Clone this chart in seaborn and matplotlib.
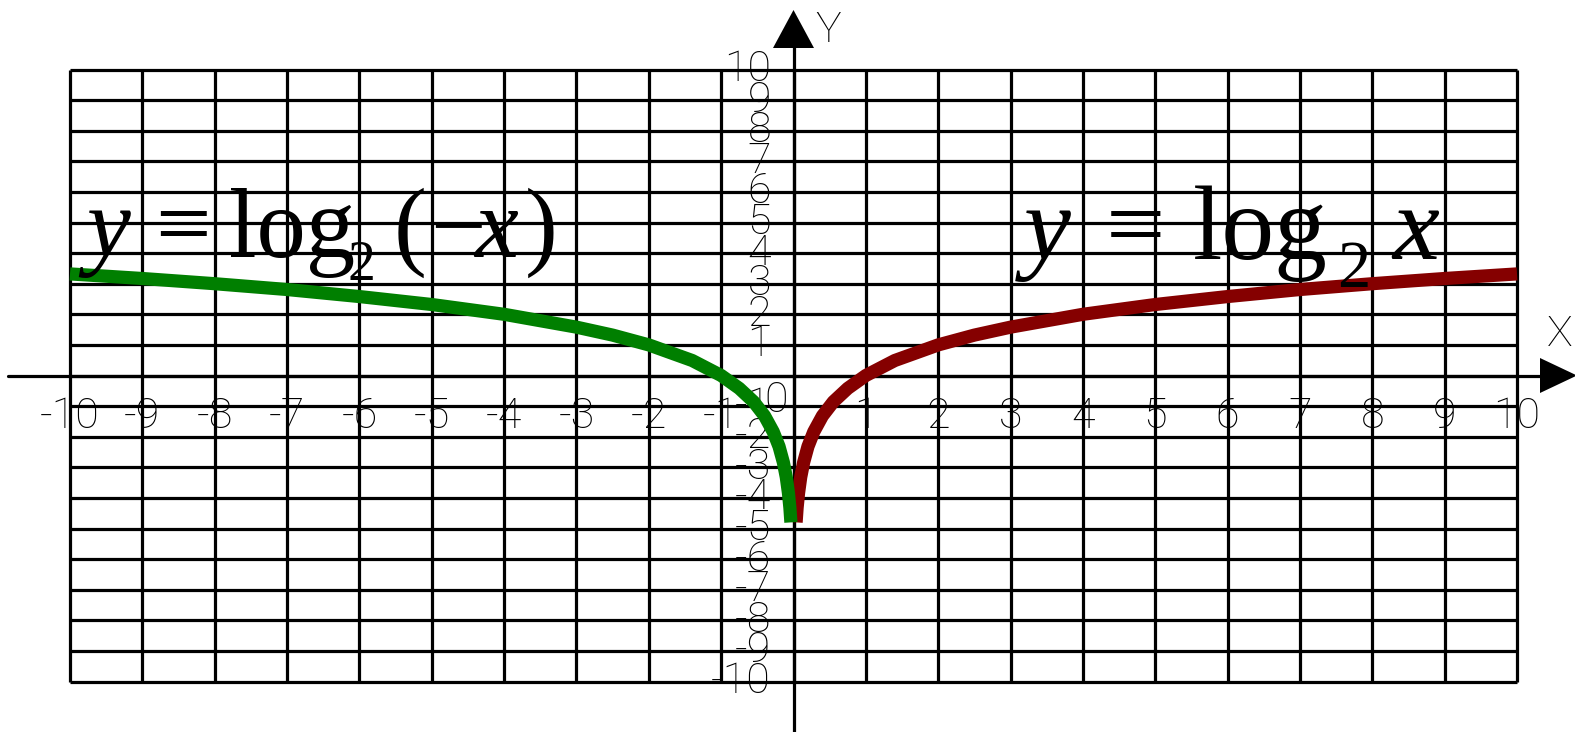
import matplotlib
matplotlib.use("Agg")
import matplotlib.pyplot as plt
import seaborn as sns

sns.set_style("white")
plt.rcParams["font.family"] = ["DejaVu Sans"]

# ---- data -------------------------------------------------------------
# grid / tick values
x_ticks = [-10, -9, -8, -7, -6, -5, -4, -3, -2, -1, 0, 1, 2, 3, 4, 5, 6, 7, 8, 9, 10]
y_ticks = [-10, -9, -8, -7, -6, -5, -4, -3, -2, -1, 0, 1, 2, 3, 4, 5, 6, 7, 8, 9, 10]
x_tick_labels = ["-10", "-9", "-8", "-7", "-6", "-5", "-4", "-3", "-2", "-1",
                 "1", "2", "3", "4", "5", "6", "7", "8", "9", "10"]
x_label_values = [-10, -9, -8, -7, -6, -5, -4, -3, -2, -1,
                  1, 2, 3, 4, 5, 6, 7, 8, 9, 10]
y_tick_labels = ["-10", "-9", "-8", "-7", "-6", "-5", "-4", "-3", "-2", "-1",
                 "1", "2", "3", "4", "5", "6", "7", "8", "9", "10"]
y_label_values = [-10, -9, -8, -7, -6, -5, -4, -3, -2, -1,
                  1, 2, 3, 4, 5, 6, 7, 8, 9, 10]

# y = log2 x  (right branch)
x_right = [0.036, 0.05, 0.07, 0.1, 0.14, 0.2, 0.28, 0.4, 0.55, 0.75,
           1.0, 1.4, 2.0, 2.5, 3.0, 4.0, 5.0, 6.0, 7.0, 8.0, 9.0, 10.0]
y_right = [-4.80, -4.32, -3.84, -3.32, -2.84, -2.32, -1.84, -1.32, -0.86, -0.42,
           0.00, 0.49, 1.00, 1.32, 1.58, 2.00, 2.32, 2.58, 2.81, 3.00, 3.17, 3.32]

# y = log2(-x)  (left branch)
x_left = [-0.036, -0.05, -0.07, -0.1, -0.14, -0.2, -0.28, -0.4, -0.55, -0.75,
          -1.0, -1.4, -2.0, -2.5, -3.0, -4.0, -5.0, -6.0, -7.0, -8.0, -9.0, -10.0]
y_left = [-4.80, -4.32, -3.84, -3.32, -2.84, -2.32, -1.84, -1.32, -0.86, -0.42,
          0.00, 0.49, 1.00, 1.32, 1.58, 2.00, 2.32, 2.58, 2.81, 3.00, 3.17, 3.32]

GREEN = "#007f00"
DARKRED = "#850000"

# ---- figure -----------------------------------------------------------
W, H = 1575, 732
fig = plt.figure(figsize=(W / 100, H / 100), dpi=100)
ax = fig.add_axes([0, 0, 1, 1])

# pixel geometry of the coordinate plane
X0, SX = 793.5, 72.35     # pixel column of x=0, pixels per unit
Y0, SY = 375.5, 30.6      # pixel row of y=0, pixels per unit


def dx(p):
    return (p - X0) / SX


def dy(p):
    return (Y0 - p) / SY


ax.set_xlim(dx(0), dx(W))
ax.set_ylim(dy(H), dy(0))
ax.axis("off")

# grid
ax.vlines(x_ticks, y_ticks[0], y_ticks[-1], colors="black", lw=2.3, zorder=1)
ax.hlines(y_ticks, x_ticks[0], x_ticks[-1], colors="black", lw=2.3, zorder=1)

# axes with arrows
ax.plot([dx(8), dx(1545)], [0, 0], color="black", lw=2.3, zorder=2)
ax.plot([0, 0], [dy(H + 5), dy(30)], color="black", lw=2.3, zorder=2)
ax.fill([0, dx(773), dx(814)], [dy(10), dy(48), dy(48)], color="black", zorder=3, lw=0)
ax.fill([dx(1577), dx(1540), dx(1540)], [0, dy(358), dy(393)], color="black", zorder=3, lw=0)

tick_font = dict(family="Roboto", fontweight="light", fontsize=31, color="black")
ax.text(dx(815), dy(31), "Y", ha="left", va="center", zorder=4, **tick_font)
ax.text(dx(1547), dy(334), "X", ha="left", va="center", zorder=4, **tick_font)

# tick labels
for v, s in zip(x_label_values, x_tick_labels):
    ax.text(v, dy(416), s, ha="center", va="center", zorder=4, **tick_font)
for v, s in zip(y_label_values, y_tick_labels):
    ax.text(dx(771), v, s, ha="right", va="center", zorder=4, **tick_font)
ax.text(dx(776), dy(400), "0", ha="center", va="center", zorder=4, **tick_font)

# curves
sns.lineplot(x=x_right, y=y_right, ax=ax, color=DARKRED, lw=9.5,
             estimator=None, sort=True, solid_capstyle="butt", zorder=5)
sns.lineplot(x=x_left, y=y_left, ax=ax, color=GREEN, lw=9.5,
             estimator=None, sort=True, solid_capstyle="butt", zorder=5)

# formulas
SERIF = "Liberation Serif"


def piece(px, py, s, size, italic=False):
    ax.text(dx(px), dy(py), s, ha="left", va="baseline", fontsize=size,
            family=SERIF, style="italic" if italic else "normal",
            color="black", zorder=6)


# y = log2(-x)
L, LS = 71, 40
piece(86, 257, "y", L, italic=True)
piece(155, 257, "=", L)
piece(229, 257, "log", L)
piece(348, 280, "2", LS)
piece(394, 257, "(", L)
piece(430, 257, "\u2212", L)
piece(474, 257, "x", L, italic=True)
piece(525, 257, ")", L)

# y = log2 x
R, RS = 76, 48
piece(1024, 259, "y", R, italic=True)
piece(1106, 259, "=", R)
piece(1193, 259, "log", R)
piece(1337, 287, "2", RS)
piece(1392, 259, "x", R, italic=True)

fig.savefig("out.png", dpi=100, facecolor="white")
